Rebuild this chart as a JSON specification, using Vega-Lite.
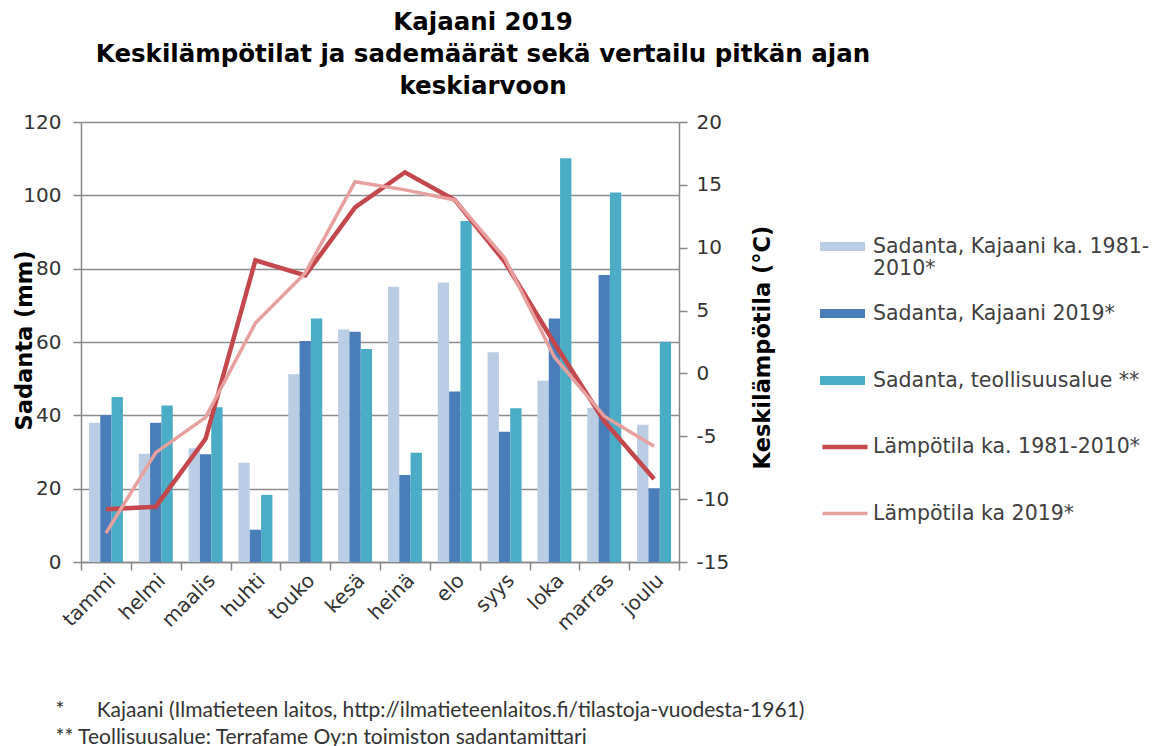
{
  "$schema": "https://vega.github.io/schema/vega-lite/v6.json",
  "width": 598,
  "height": 440,
  "autosize": {"type": "none"},
  "padding": {"left": 81, "top": 122, "right": 478, "bottom": 184},
  "background": "white",
  "title": {
    "text": ["Kajaani 2019", "Keskilämpötilat ja sademäärät sekä vertailu pitkän ajan", "keskiarvoon"],
    "font": "DejaVu Sans",
    "fontSize": 24.5,
    "fontWeight": "bold",
    "color": "#000000",
    "lineHeight": 32,
    "anchor": "middle",
    "dx": 103,
    "offset": 13
  },
  "config": {
    "view": {"stroke": null},
    "axis": {
      "domainColor": "#868686",
      "domainWidth": 1.5,
      "tickColor": "#868686",
      "tickWidth": 1.5,
      "gridColor": "#8c8c8c",
      "gridWidth": 1.5,
      "labelFont": "DejaVu Sans",
      "labelFontSize": 20,
      "labelColor": "#333333",
      "titleFont": "DejaVu Sans",
      "titleFontSize": 22.5,
      "titleFontWeight": "bold",
      "titleColor": "#000000"
    },
    "legend": {
      "labelFont": "DejaVu Sans",
      "labelFontSize": 20.5,
      "labelColor": "#404040",
      "labelLimit": 400,
      "gridAlign": "all"
    }
  },
  "datasets": {
    "sadanta": [
      {"kk": "tammi", "sarja": "Sadanta, Kajaani ka. 1981-2010*", "mm": 38.0},
      {"kk": "tammi", "sarja": "Sadanta, Kajaani 2019*", "mm": 40.0},
      {"kk": "tammi", "sarja": "Sadanta, teollisuusalue **", "mm": 45.0},
      {"kk": "helmi", "sarja": "Sadanta, Kajaani ka. 1981-2010*", "mm": 29.5},
      {"kk": "helmi", "sarja": "Sadanta, Kajaani 2019*", "mm": 38.0},
      {"kk": "helmi", "sarja": "Sadanta, teollisuusalue **", "mm": 42.7},
      {"kk": "maalis", "sarja": "Sadanta, Kajaani ka. 1981-2010*", "mm": 31.0},
      {"kk": "maalis", "sarja": "Sadanta, Kajaani 2019*", "mm": 29.4},
      {"kk": "maalis", "sarja": "Sadanta, teollisuusalue **", "mm": 42.2},
      {"kk": "huhti", "sarja": "Sadanta, Kajaani ka. 1981-2010*", "mm": 27.1},
      {"kk": "huhti", "sarja": "Sadanta, Kajaani 2019*", "mm": 8.8},
      {"kk": "huhti", "sarja": "Sadanta, teollisuusalue **", "mm": 18.3},
      {"kk": "touko", "sarja": "Sadanta, Kajaani ka. 1981-2010*", "mm": 51.2},
      {"kk": "touko", "sarja": "Sadanta, Kajaani 2019*", "mm": 60.3},
      {"kk": "touko", "sarja": "Sadanta, teollisuusalue **", "mm": 66.4},
      {"kk": "kesä", "sarja": "Sadanta, Kajaani ka. 1981-2010*", "mm": 63.4},
      {"kk": "kesä", "sarja": "Sadanta, Kajaani 2019*", "mm": 62.8},
      {"kk": "kesä", "sarja": "Sadanta, teollisuusalue **", "mm": 58.1},
      {"kk": "heinä", "sarja": "Sadanta, Kajaani ka. 1981-2010*", "mm": 75.1},
      {"kk": "heinä", "sarja": "Sadanta, Kajaani 2019*", "mm": 23.7},
      {"kk": "heinä", "sarja": "Sadanta, teollisuusalue **", "mm": 29.8},
      {"kk": "elo", "sarja": "Sadanta, Kajaani ka. 1981-2010*", "mm": 76.2},
      {"kk": "elo", "sarja": "Sadanta, Kajaani 2019*", "mm": 46.5},
      {"kk": "elo", "sarja": "Sadanta, teollisuusalue **", "mm": 93.0},
      {"kk": "syys", "sarja": "Sadanta, Kajaani ka. 1981-2010*", "mm": 57.2},
      {"kk": "syys", "sarja": "Sadanta, Kajaani 2019*", "mm": 35.5},
      {"kk": "syys", "sarja": "Sadanta, teollisuusalue **", "mm": 41.9},
      {"kk": "loka", "sarja": "Sadanta, Kajaani ka. 1981-2010*", "mm": 49.4},
      {"kk": "loka", "sarja": "Sadanta, Kajaani 2019*", "mm": 66.4},
      {"kk": "loka", "sarja": "Sadanta, teollisuusalue **", "mm": 110.1},
      {"kk": "marras", "sarja": "Sadanta, Kajaani ka. 1981-2010*", "mm": 42.0},
      {"kk": "marras", "sarja": "Sadanta, Kajaani 2019*", "mm": 78.3},
      {"kk": "marras", "sarja": "Sadanta, teollisuusalue **", "mm": 100.8},
      {"kk": "joulu", "sarja": "Sadanta, Kajaani ka. 1981-2010*", "mm": 37.4},
      {"kk": "joulu", "sarja": "Sadanta, Kajaani 2019*", "mm": 20.1},
      {"kk": "joulu", "sarja": "Sadanta, teollisuusalue **", "mm": 60.1}
    ],
    "lampotila": [
      {"kk": "tammi", "sarja": "Lämpötila ka. 1981-2010*", "c": -10.8},
      {"kk": "helmi", "sarja": "Lämpötila ka. 1981-2010*", "c": -10.6},
      {"kk": "maalis", "sarja": "Lämpötila ka. 1981-2010*", "c": -5.2},
      {"kk": "huhti", "sarja": "Lämpötila ka. 1981-2010*", "c": 9.0},
      {"kk": "touko", "sarja": "Lämpötila ka. 1981-2010*", "c": 7.8},
      {"kk": "kesä", "sarja": "Lämpötila ka. 1981-2010*", "c": 13.2},
      {"kk": "heinä", "sarja": "Lämpötila ka. 1981-2010*", "c": 16.0},
      {"kk": "elo", "sarja": "Lämpötila ka. 1981-2010*", "c": 13.8},
      {"kk": "syys", "sarja": "Lämpötila ka. 1981-2010*", "c": 8.9},
      {"kk": "loka", "sarja": "Lämpötila ka. 1981-2010*", "c": 2.4},
      {"kk": "marras", "sarja": "Lämpötila ka. 1981-2010*", "c": -3.8},
      {"kk": "joulu", "sarja": "Lämpötila ka. 1981-2010*", "c": -8.4},
      {"kk": "tammi", "sarja": "Lämpötila ka 2019*", "c": -12.7},
      {"kk": "helmi", "sarja": "Lämpötila ka 2019*", "c": -6.3},
      {"kk": "maalis", "sarja": "Lämpötila ka 2019*", "c": -3.5},
      {"kk": "huhti", "sarja": "Lämpötila ka 2019*", "c": 4.0},
      {"kk": "touko", "sarja": "Lämpötila ka 2019*", "c": 8.0},
      {"kk": "kesä", "sarja": "Lämpötila ka 2019*", "c": 15.25},
      {"kk": "heinä", "sarja": "Lämpötila ka 2019*", "c": 14.6},
      {"kk": "elo", "sarja": "Lämpötila ka 2019*", "c": 13.8},
      {"kk": "syys", "sarja": "Lämpötila ka 2019*", "c": 9.2},
      {"kk": "loka", "sarja": "Lämpötila ka 2019*", "c": 1.3},
      {"kk": "marras", "sarja": "Lämpötila ka 2019*", "c": -3.4},
      {"kk": "joulu", "sarja": "Lämpötila ka 2019*", "c": -5.8}
    ]
  },
  "layer": [
    {
      "data": {"name": "sadanta"},
      "mark": {"type": "bar"},
      "encoding": {
        "x": {
          "field": "kk",
          "type": "nominal",
          "sort": ["tammi", "helmi", "maalis", "huhti", "touko", "kesä", "heinä", "elo", "syys", "loka", "marras", "joulu"],
          "scale": {"paddingInner": 0, "paddingOuter": 0},
          "axis": {
            "tickBand": "extent",
            "tickSize": 8,
            "grid": false,
            "labelAngle": -45,
            "labelAlign": "right",
            "labelBaseline": "middle",
            "labelOffset": 6,
            "labelPadding": 7,
            "title": [
              "*\u00a0\u00a0\u00a0\u00a0\u00a0\u00a0Kajaani (Ilmatieteen laitos, http://ilmatieteenlaitos.fi/tilastoja-vuodesta-1961)",
              "**\u00a0Teollisuusalue: Terrafame Oy:n toimiston sadantamittari"
            ],
            "titleX": -26,
            "titleY": 148,
            "titleAlign": "left",
            "titleAnchor": "start",
            "titleBaseline": "middle",
            "titleFont": "Lato",
            "titleFontSize": 21,
            "titleFontWeight": "normal",
            "titleLineHeight": 27,
            "titleColor": "#333333"
          }
        },
        "xOffset": {
          "field": "sarja",
          "type": "nominal",
          "sort": ["Sadanta, Kajaani ka. 1981-2010*", "Sadanta, Kajaani 2019*", "Sadanta, teollisuusalue **"],
          "scale": {"paddingInner": 0, "paddingOuter": 0.7}
        },
        "y": {
          "field": "mm",
          "type": "quantitative",
          "scale": {"domain": [0, 120], "nice": false},
          "axis": {
            "orient": "left",
            "values": [0, 20, 40, 60, 80, 100, 120],
            "grid": true,
            "tickSize": 8,
            "labelPadding": 12,
            "title": "Sadanta (mm)",
            "titleAngle": 270,
            "titleX": -57,
            "titleY": 218,
            "titleAlign": "center",
            "titleBaseline": "middle"
          }
        },
        "fill": {
          "field": "sarja",
          "type": "nominal",
          "scale": {
            "domain": ["Sadanta, Kajaani ka. 1981-2010*", "Sadanta, Kajaani 2019*", "Sadanta, teollisuusalue **"],
            "range": ["#b9cde5", "#4a7ebb", "#4bacc6"]
          },
          "legend": {
            "orient": "none",
            "legendX": 739,
            "legendY": 102,
            "title": null,
            "symbolType": "M-1,-0.2H1V0.2H-1Z",
            "symbolSize": 2025,
            "symbolStrokeWidth": 0,
            "labelOffset": 8,
            "rowPadding": 11,
            "labelExpr": "datum.label == 'Sadanta, Kajaani ka. 1981-2010*' ? ['Sadanta, Kajaani ka. 1981-', '2010*'] : datum.label"
          }
        }
      }
    },
    {
      "data": {"name": "lampotila"},
      "mark": {"type": "line"},
      "encoding": {
        "x": {
          "field": "kk",
          "type": "nominal",
          "sort": ["tammi", "helmi", "maalis", "huhti", "touko", "kesä", "heinä", "elo", "syys", "loka", "marras", "joulu"]
        },
        "y": {
          "field": "c",
          "type": "quantitative",
          "scale": {"domain": [-15, 20], "nice": false},
          "axis": {
            "orient": "right",
            "values": [-15, -10, -5, 0, 5, 10, 15, 20],
            "grid": false,
            "tickSize": 8,
            "labelPadding": 9,
            "labelExpr": "'' + datum.value",
            "title": "Keskilämpötila (°C)",
            "titleAngle": 270,
            "titleX": 83,
            "titleY": 225,
            "titleAlign": "center",
            "titleBaseline": "middle"
          }
        },
        "stroke": {
          "field": "sarja",
          "type": "nominal",
          "scale": {
            "domain": ["Lämpötila ka. 1981-2010*", "Lämpötila ka 2019*"],
            "range": ["#c4474c", "#e8a09f"]
          },
          "legend": {
            "orient": "none",
            "legendX": 739,
            "legendY": 300,
            "title": null,
            "symbolType": "stroke",
            "symbolSize": 2025,
            "symbolStrokeWidth": 4,
            "labelOffset": 3,
            "rowPadding": 31
          }
        },
        "strokeWidth": {
          "field": "sarja",
          "type": "nominal",
          "scale": {
            "domain": ["Lämpötila ka. 1981-2010*", "Lämpötila ka 2019*"],
            "range": [4.5, 3.5]
          },
          "legend": null
        }
      }
    }
  ],
  "resolve": {"scale": {"y": "independent"}}
}
